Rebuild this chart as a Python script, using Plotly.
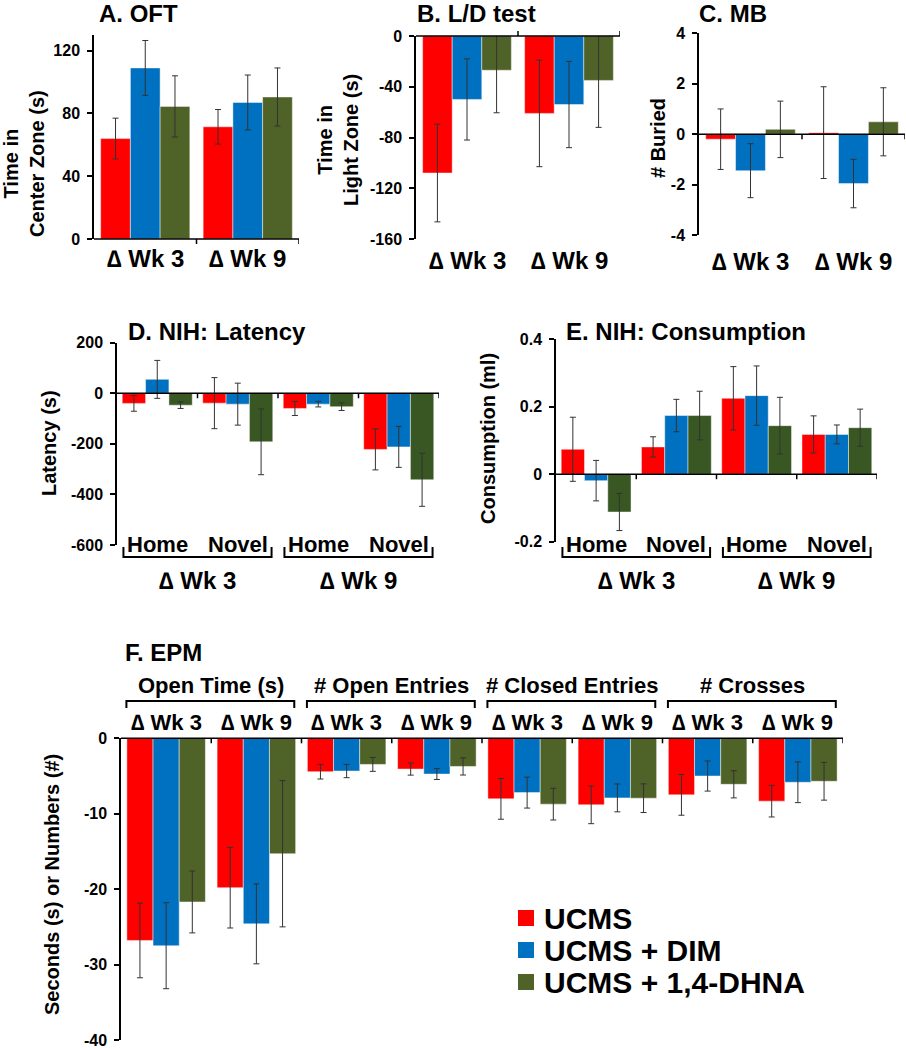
import plotly.graph_objects as go

W, H = 906, 1050
FONT = "Arial, Liberation Sans, sans-serif"

# ---------------- data ----------------
series = ["UCMS", "UCMS + DIM", "UCMS + 1,4-DHNA"]
bar_colors = ["#FF0000", "#0070C0", "#4F6228"]
bar_colors_nih = ["#FF0000", "#0070C0", "#385723"]

week_labels = ["∆ Wk 3", "∆ Wk 9"]
nih_labels = ["Home", "Novel", "Home", "Novel"]
epm_labels = ["∆ Wk 3", "∆ Wk 9", "∆ Wk 3", "∆ Wk 9", "∆ Wk 3", "∆ Wk 9", "∆ Wk 3", "∆ Wk 9"]
epm_headers = ["Open Time (s)", "# Open Entries", "# Closed Entries", "# Crosses"]

# A. OFT (time in center zone, s)  -> one list per series
oft_mean = [[64, 71.5], [109, 87], [84.5, 90.5]]
oft_err = [[13, 11], [17.5, 17.5], [19.5, 18.5]]
oft_ticks = [0, 40, 80, 120]

# B. L/D test (time in light zone, s)
ld_mean = [[-108, -61], [-50, -54], [-27, -35]]
ld_err = [[38.5, 42], [32, 34], [33.5, 37]]
ld_ticks = [-160, -120, -80, -40, 0]

# C. MB (# buried)
mb_mean = [[-0.2, 0.06], [-1.45, -1.96], [0.19, 0.49]]
mb_err = [[1.2, 1.82], [1.07, 0.96], [1.12, 1.35]]
mb_ticks = [-4, -2, 0, 2, 4]

# D. NIH latency (s)
lat_mean = [[-40, -39, -60, -222], [55, -43, -43, -212], [-47, -192, -53, -342]]
lat_err = [[31, 101, 28, 81], [75, 83, 11, 81], [13, 130, 15, 105]]
lat_ticks = [-600, -400, -200, 0, 200]

# E. NIH consumption (ml)
con_mean = [[0.074, 0.081, 0.225, 0.118], [-0.019, 0.174, 0.233, 0.118], [-0.112, 0.174, 0.144, 0.138]]
con_err = [[0.095, 0.03, 0.094, 0.055], [0.06, 0.048, 0.088, 0.028], [0.055, 0.072, 0.084, 0.055]]
con_ticks = [-0.2, 0, 0.2, 0.4]

# F. EPM
epm_mean = [[-26.8, -19.8, -4.43, -4.08, -8.03, -8.82, -7.5, -8.33],
            [-27.5, -24.6, -4.34, -4.74, -7.2, -7.9, -5.0, -5.83],
            [-21.7, -15.3, -3.46, -3.73, -8.73, -7.94, -6.1, -5.7]]
epm_err = [[4.95, 5.35, 0.97, 0.8, 2.7, 2.5, 2.7, 2.1],
           [5.7, 5.3, 0.88, 0.72, 2.05, 1.85, 2.0, 2.7],
           [4.1, 9.7, 0.92, 1.14, 2.1, 1.9, 1.8, 2.5]]
epm_ticks = [-40, -30, -20, -10, 0]

# ---------------- layout helpers ----------------
def px_x(p):
    return p / W


def px_y(p):
    return 1 - p / H


panels = [
    dict(title="A. OFT", mean=oft_mean, err=oft_err, cats=week_labels, colors=bar_colors,
         xpx=(94, 299), ypx=(35, 239), yr=[0, 130], ticks=oft_ticks,
         ytitle="Time in<br>Center Zone (s)", ytpos=(24, 164), tpos=(97, 14), tickdir=-1),
    dict(title="B. L/D test", mean=ld_mean, err=ld_err, cats=week_labels, colors=bar_colors,
         xpx=(416, 620), ypx=(36, 239), yr=[-160, 0], ticks=ld_ticks,
         ytitle="Time in<br>Light Zone (s)", ytpos=(338, 140), tpos=(415, 13), tickdir=1),
    dict(title="C. MB", mean=mb_mean, err=mb_err, cats=week_labels, colors=bar_colors,
         xpx=(699, 905), ypx=(33.3, 235), yr=[-4, 4], ticks=mb_ticks,
         ytitle="# Buried", ytpos=(658, 138), tpos=(697, 13), tickdir=-1),
    dict(title="D. NIH: Latency", mean=lat_mean, err=lat_err, cats=nih_labels, colors=bar_colors_nih,
         xpx=(117, 439), ypx=(342.7, 545), yr=[-600, 200], ticks=lat_ticks,
         ytitle="Latency (s)", ytpos=(49, 443), tpos=(126, 331), tickdir=-1),
    dict(title="E. NIH: Consumption", mean=con_mean, err=con_err, cats=nih_labels, colors=bar_colors_nih,
         xpx=(556, 877), ypx=(339.3, 541.7), yr=[-0.2, 0.4], ticks=con_ticks,
         ytitle="Consumption (ml)", ytpos=(488, 439), tpos=(564, 332), tickdir=-1),
    dict(title="F. EPM", mean=epm_mean, err=epm_err, cats=epm_labels, colors=bar_colors,
         xpx=(121, 843), ypx=(738.3, 1040), yr=[-40, 0], ticks=epm_ticks,
         ytitle="Seconds (s) or Numbers (#)", ytpos=(52, 885), tpos=(123, 652), tickdir=-1),
]

fig = go.Figure()
shapes = []
annotations = []
layout_axes = {}


def bold(size):
    return dict(family=FONT, size=size, color="black", weight="bold")


for k, p in enumerate(panels):
    idx = "" if k == 0 else str(k + 1)
    xname, yname = "x" + idx, "y" + idx
    n = len(p["cats"])
    xs = list(range(n))
    for s in range(3):
        fig.add_trace(go.Bar(
            x=xs, y=p["mean"][s], name=series[s], xaxis=xname, yaxis=yname,
            marker=dict(color=p["colors"][s], line=dict(color="rgba(255,255,255,0.45)", width=1)),
            error_y=dict(type="data", array=p["err"][s], visible=True, color="#333333",
                         thickness=1, width=3),
            legendgroup=series[s], showlegend=False,
        ))
    xd = [px_x(p["xpx"][0]), px_x(p["xpx"][1])]
    yd = [px_y(p["ypx"][1]), px_y(p["ypx"][0])]
    layout_axes["xaxis" + idx] = dict(domain=xd, anchor=yname, range=[-0.5, n - 0.5],
                                      showticklabels=False, showline=False, showgrid=False,
                                      zeroline=False, ticks="", fixedrange=True)
    layout_axes["yaxis" + idx] = dict(domain=yd, anchor=xname, range=p["yr"],
                                      tickvals=p["ticks"], ticktext=[f"{v:g}" for v in p["ticks"]],
                                      showline=True, linecolor="black", linewidth=1.5,
                                      ticks="outside", ticklen=5, tickwidth=1.5, tickcolor="black",
                                      tickfont=bold(16), showgrid=False, zeroline=False,
                                      ticklabelstandoff=4, ticklabeloverflow="allow",
                                      fixedrange=True)
    # zero baseline (category axis line) in paper coords
    r0, r1 = p["yr"]
    base = yd[0] + (0 - r0) / (r1 - r0) * (yd[1] - yd[0])
    shapes.append(dict(type="line", xref=xname + " domain", yref="paper", x0=0, x1=1,
                       y0=base, y1=base, line=dict(color="black", width=1.5), layer="above"))
    for b in range(n):
        shapes.append(dict(type="line", xref=xname, yref="paper", x0=b + 0.5, x1=b + 0.5,
                           y0=base, y1=base + p["tickdir"] * 5 / H,
                           line=dict(color="black", width=1.5), layer="above"))
    # titles
    annotations.append(dict(text=p["title"], xref="paper", yref="paper",
                            x=px_x(p["tpos"][0]), y=px_y(p["tpos"][1]),
                            xanchor="left", yanchor="middle", showarrow=False, font=bold(24)))
    annotations.append(dict(text=p["ytitle"], xref="paper", yref="paper",
                            x=px_x(p["ytpos"][0]), y=px_y(p["ytpos"][1]), textangle=-90,
                            xanchor="center", yanchor="middle", showarrow=False, font=bold(20)))
    # category labels
    if k < 3:
        ylab = {0: 258, 1: 260, 2: 262}[k]
        for i, c in enumerate(p["cats"]):
            annotations.append(dict(text=c, xref=xname, yref="paper", x=i, y=px_y(ylab),
                                    xanchor="center", yanchor="middle", showarrow=False, font=bold(24)))
    elif k < 5:
        for i, c in enumerate(p["cats"]):
            annotations.append(dict(text=c, xref=xname, yref="paper", x=i, y=px_y(544),
                                    xanchor="center", yanchor="middle", showarrow=False, font=bold(22)))
        for g, wl in enumerate(week_labels):
            x0, x1 = 2 * g - 0.42, 2 * g + 1.42
            yt, yb = px_y(547), px_y(557)
            shapes.append(dict(type="path", xref=xname, yref="paper",
                               path=f"M {x0},{yt} L {x0},{yb} L {x1},{yb} L {x1},{yt}",
                               line=dict(color="black", width=2)))
            annotations.append(dict(text=wl, xref=xname, yref="paper", x=2 * g + 0.5, y=px_y(580),
                                    xanchor="center", yanchor="middle", showarrow=False, font=bold(24)))
    else:
        for i, c in enumerate(p["cats"]):
            annotations.append(dict(text=c, xref=xname, yref="paper", x=i, y=px_y(722),
                                    xanchor="center", yanchor="middle", showarrow=False, font=bold(22)))
        for g, hd in enumerate(epm_headers):
            x0, x1 = 2 * g - 0.44, 2 * g + 1.42
            yt, yb = px_y(701), px_y(708)
            shapes.append(dict(type="path", xref=xname, yref="paper",
                               path=f"M {x0},{yb} L {x0},{yt} L {x1},{yt} L {x1},{yb}",
                               line=dict(color="black", width=2)))
            annotations.append(dict(text=hd, xref=xname, yref="paper", x=2 * g + 0.5, y=px_y(685),
                                    xanchor="center", yanchor="middle", showarrow=False, font=bold(22)))

# legend (drawn as key squares + text, positioned like the original)
legend_rows_px = [918, 950, 982]
for s in range(3):
    yc = legend_rows_px[s]
    shapes.append(dict(type="rect", xref="paper", yref="paper",
                       x0=px_x(518), x1=px_x(534), y0=px_y(yc - 8), y1=px_y(yc + 8),
                       fillcolor=bar_colors[s], line=dict(width=0)))
    annotations.append(dict(text=series[s], xref="paper", yref="paper", x=px_x(542), y=px_y(yc),
                            xanchor="left", yanchor="middle", showarrow=False, font=bold(30)))

fig.update_layout(
    width=W, height=H, margin=dict(l=0, r=0, t=0, b=0, autoexpand=False),
    paper_bgcolor="white", plot_bgcolor="white",
    barmode="group", bargap=0.13, bargroupgap=0,
    font=dict(family=FONT, color="black"),
    shapes=shapes, annotations=annotations, showlegend=False,
    **layout_axes,
)

fig.write_html("out.html", config={"displayModeBar": False},
               post_script="document.body.style.margin='0';document.body.style.padding='0';")
